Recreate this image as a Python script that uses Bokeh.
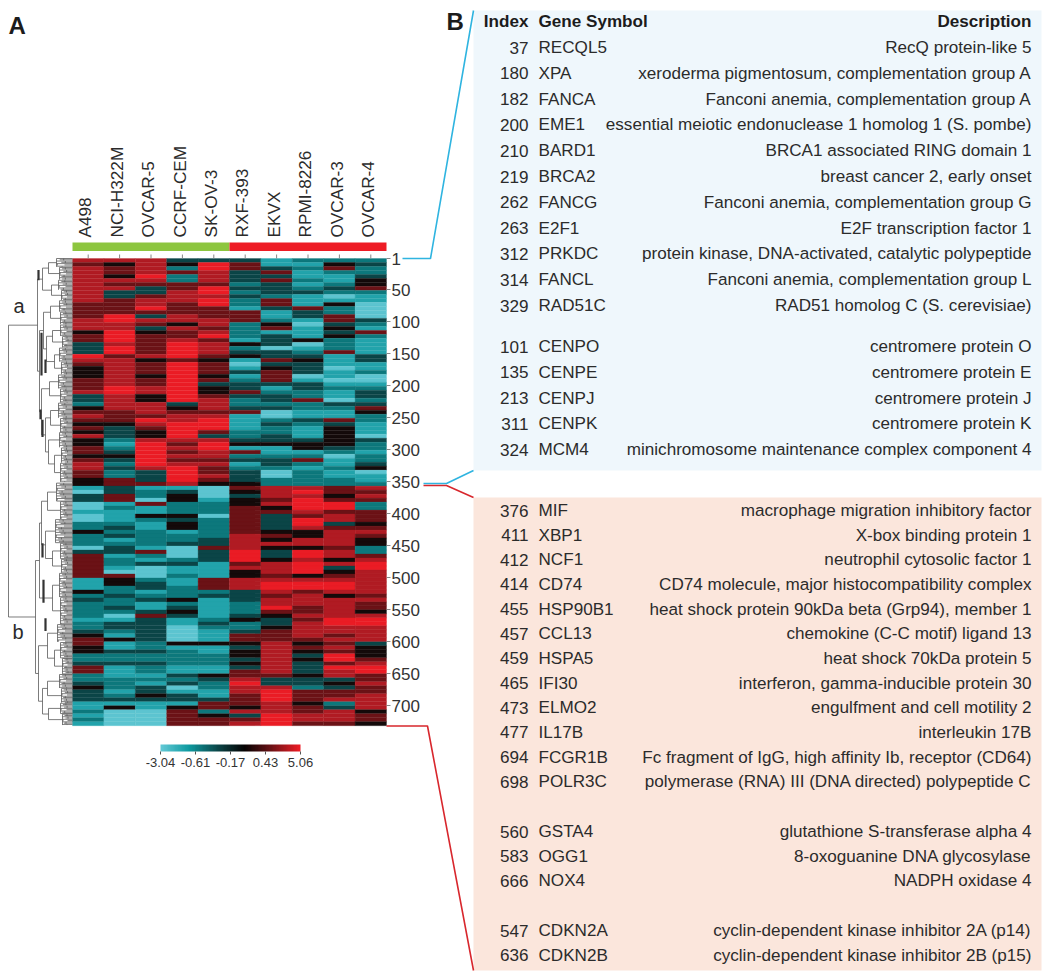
import numpy as np
from bokeh.plotting import figure
from bokeh.embed import file_html
from bokeh.resources import INLINE
from bokeh.core.properties import value
from bokeh.models import (ColumnDataSource, Range1d, LinearAxis, FixedTicker, ColorBar,
                          LinearColorMapper)

# ---------- data ----------
CELL_LINES = ["A498", "NCI-H322M", "OVCAR-5", "CCRF-CEM", "SK-OV-3",
              "RXF-393", "EKVX", "RPMI-8226", "OVCAR-3", "OVCAR-4"]
GENE_COUNT = 730
GENE_TICKS = [1, 50, 100, 150, 200, 250, 300, 350, 400, 450, 500, 550, 600, 650, 700]

# expression class per band of genes, top to bottom (0 = lowest ... 7 = highest)
A498      = "65666666666555566645533376544" "455563324565454644554566554410" "330010022422203555555111423222" "2122345544223552234333112121"
NCI_H322M = "64554656335555776677767756666" "666776666555433321234323225533" "551211123231233122105442232232" "0133214113223111222123140000"
OVCAR_5   = "66667653356675365345555564555" "455664466657654467777776333512" "205114211222215213000233123113" "5333333223223221213343110000"
CCRF_CEM  = "34252255666555664655677775777" "777777734566777765656567777613" "442224344122300023112112224234" "3110000412222113230133145555"
SK_OV_3   = "37766657767755566567566654555" "453445666567775367766565565400" "012220222223353331111555231111" "1232111411222114322113552455"
RXF_393   = "35533323232215552222142341013" "123353223511112234152312333454" "344555555566667775644666333222" "3422355434434355676655546356"
EKVX      = "11353533325531124513330335345" "553123323002322334112332002266" "656453333454643346665677656675" "4334555666666665336777666777"
RPMI_8226 = "21211212311153310111401234333" "013322522113211134412521222267" "677765776446647767774677566655" "6566665454343334332555455665"
OVCAR_3   = "24521123201422553434222511101" "101211032115344444320112112255" "457756635666656646345677646666" "6776656565775766343556236665"
OVCAR_4   = "23223445211000032152111133112" "001233235422111032212234011265" "652255545654422567766666656554" "6776666344456775565566664554"
COLUMNS = [A498, NCI_H322M, OVCAR_5, CCRF_CEM, SK_OV_3, RXF_393, EKVX, RPMI_8226, OVCAR_3, OVCAR_4]
LEVEL_COLORS = ["#5cc4d0", "#22a3ab", "#0d787c", "#0b4547", "#140a0a", "#6b1216", "#b01b23", "#ea1c25"]

# dendrogram: (distance, child, child) or leaf cluster (distance, first gene, last gene)
TREE_A = (35,
          (30, (24, (16, 1, 14), (13, 15, 34)), (21, (14, 35, 50), (11, 51, 66))),
          (33,
           (29, (22, (13, 67, 84), (12, 85, 104)),
            (26, (20, (12, 105, 122), (10, 123, 140)), (18, (13, 141, 162), (11, 163, 182)))),
           (31, (23, (14, 183, 204), (12, 205, 226)),
            (27, (22, (14, 227, 250), (12, 251, 272)),
             (24, (13, 273, 296), (18, (11, 297, 320), (12, 321, 350)))))))
TREE_B = (37,
          (33,
           (31, (25, (16, 352, 380), (12, 381, 408)), (27, (17, 409, 445), (20, (12, 446, 470), (11, 471, 492)))),
           (29, (20, (13, 493, 530), (12, 531, 572)))[1]),
          (34,
           (25, (15, 573, 600), (18, (12, 601, 625), (10, 626, 650))),
           (30, (25, (13, 651, 672), (11, 673, 695)), (24, (12, 696, 712), (10, 713, 730)))))
TREE = (64, TREE_A, TREE_B)
FAN = [0.55, 0.8, 0.45, 0.7, 0.95, 0.5, 0.65, 0.85]
# heavy runs of tightly nested joints: (distance, first gene, last gene)
DENSE_RUNS = [(34, 19, 35), (31, 117, 184), (27, 159, 180), (32, 237, 252), (30, 253, 280),
              (30, 446, 468), (29, 503, 539), (27, 563, 583)]

LEGEND_LABELS = ["-3.04", "-0.61", "-0.17", "0.43", "5.06"]
LEGEND_STOPS = ["#62c9d6", "#0e9aa0", "#0c4a4c", "#050303", "#701317", "#ee1c25"]

UP_INDEX = [37, 180, 182, 200, 210, 219, 262, 263, 312, 314, 329]
UP_GENE = ["RECQL5", "XPA", "FANCA", "EME1", "BARD1", "BRCA2", "FANCG", "E2F1", "PRKDC", "FANCL", "RAD51C"]
UP_DESC = ["RecQ protein-like 5", "xeroderma pigmentosum, complementation group A",
           "Fanconi anemia, complementation group A",
           "essential meiotic endonuclease 1 homolog 1 (S. pombe)",
           "BRCA1 associated RING domain 1", "breast cancer 2, early onset",
           "Fanconi anemia, complementation group G", "E2F transcription factor 1",
           "protein kinase, DNA-activated, catalytic polypeptide",
           "Fanconi anemia, complementation group L", "RAD51 homolog C (S. cerevisiae)"]
CEN_INDEX = [101, 135, 213, 311, 324]
CEN_GENE = ["CENPO", "CENPE", "CENPJ", "CENPK", "MCM4"]
CEN_DESC = ["centromere protein O", "centromere protein E", "centromere protein J",
            "centromere protein K", "minichromosome maintenance complex component 4"]
DOWN_INDEX = [376, 411, 412, 414, 455, 457, 459, 465, 473, 477, 694, 698]
DOWN_GENE = ["MIF", "XBP1", "NCF1", "CD74", "HSP90B1", "CCL13", "HSPA5", "IFI30", "ELMO2", "IL17B", "FCGR1B", "POLR3C"]
DOWN_DESC = ["macrophage migration inhibitory factor", "X-box binding protein 1",
             "neutrophil cytosolic factor 1", "CD74 molecule, major histocompatibility complex",
             "heat shock protein 90kDa beta (Grp94), member 1", "chemokine (C-C motif) ligand 13",
             "heat shock 70kDa protein 5", "interferon, gamma-inducible protein 30",
             "engulfment and cell motility 2", "interleukin 17B",
             "Fc fragment of IgG, high affinity Ib, receptor (CD64)",
             "polymerase (RNA) III (DNA directed) polypeptide C"]
OX_INDEX = [560, 583, 666]
OX_GENE = ["GSTA4", "OGG1", "NOX4"]
OX_DESC = ["glutathione S-transferase alpha 4", "8-oxoguanine DNA glycosylase", "NADPH oxidase 4"]
CDK_INDEX = [547, 636]
CDK_GENE = ["CDKN2A", "CDKN2B"]
CDK_DESC = ["cyclin-dependent kinase inhibitor 2A (p14)", "cyclin-dependent kinase inhibitor 2B (p15)"]

# ---------- layout (image pixels) ----------
FONT = value("Liberation Sans")
X0, Y0 = 0, 0
W, H = 1046, 975
HX0, HX1, HY0 = 72, 386, 258
PX_PER_GENE = 0.64
COL_W = (HX1 - HX0) / len(CELL_LINES)
TXT = "17.1px"

p = figure(width=W, height=H, x_range=(X0, X0 + W), y_range=(Y0 + H, Y0), toolbar_location=None,
           output_backend="svg", x_axis_location=None, y_axis_location=None,
           min_border=0, outline_line_color=None, background_fill_color="white")
p.grid.visible = False

# scales for columns, genes and dendrogram distance
p.extra_x_ranges["col"] = Range1d((X0 - HX0) / COL_W, (X0 + W - HX0) / COL_W)
p.extra_x_ranges["dist"] = Range1d(HX0 - X0, HX0 - X0 - W)
p.extra_y_ranges["gene"] = Range1d(1 + (Y0 + H - HY0) / PX_PER_GENE, 1 + (Y0 - HY0) / PX_PER_GENE)

# ---------- panels in B ----------
p.quad(left=[473, 473], right=[1041, 1041], top=[10, 497], bottom=[470, 970],
       fill_color=["#eff7fc", "#fbe6dc"], line_color=None)

# ---------- heatmap ----------
n_rows = len(A498)
assert all(len(c) == n_rows for c in COLUMNS), [len(c) for c in COLUMNS]
edges = 1 + np.arange(n_rows + 1) * GENE_COUNT / n_rows
hl, hr, ht, hb, hc = [], [], [], [], []
for j, col in enumerate(COLUMNS):
    for i, ch in enumerate(col):
        hl.append(j); hr.append(j + 1); ht.append(edges[i]); hb.append(edges[i + 1])
        hc.append(LEVEL_COLORS[int(ch)])
p.quad(left="l", right="r", top="t", bottom="b", fill_color="c", line_color="c", line_width=0.3,
       source=ColumnDataSource(dict(l=hl, r=hr, t=ht, b=hb, c=hc)),
       x_range_name="col", y_range_name="gene")

# ---------- class bars, column labels, ticks ----------
n = len(CELL_LINES)
p.quad(left=[0, n // 2], right=[n // 2, n], top=[250.5, 250.5], bottom=[242, 242],
       fill_color=["#8dc63f", "#ee1c25"], line_color=None, x_range_name="col")
centers = np.arange(n) + 0.5
p.text(x=list(centers - 0.09), y=[237] * n, text=CELL_LINES, angle=np.pi / 2, text_align="left",
       text_baseline="middle", text_font=FONT, text_font_size="17.2px", text_color="#2b2b2b",
       x_range_name="col")
p.segment(x0=list(centers), x1=list(centers), y0=[254] * n, y1=[258] * n, line_color="#888888",
          line_width=1, x_range_name="col")

ax = LinearAxis(y_range_name="gene", fixed_location=HX1, ticker=FixedTicker(ticks=GENE_TICKS),
                axis_line_color=None, major_tick_line_color="#888888", major_tick_in=0,
                major_tick_out=4, minor_tick_line_color=None, major_label_standoff=1,
                major_label_text_font="Liberation Sans", major_label_text_font_size="17px",
                major_label_text_color="#333333")
p.add_layout(ax, "right")

# ---------- dendrogram ----------
sx0, sx1, sy0, sy1 = [], [], [], []
def seg(a, b, c, d):
    sx0.append(a); sx1.append(b); sy0.append(c); sy1.append(d)

def walk(node):
    d = node[0]
    if isinstance(node[1], tuple):
        kids = [(k[0], walk(k)) for k in node[1:]]
        ys = [y for _, y in kids]
        seg(d, d, min(ys), max(ys))
        for kd, y in kids:
            seg(d, kd, y, y)
        return sum(ys) / len(ys)
    first, last = node[1], node[2]
    seg(d, d, first, last)
    k = 0
    for g in range(first, last + 1, 2):
        start = d * FAN[k % len(FAN)] if (g - first) % 4 else d
        seg(start, 0, g, g)
        if (g - first) % 4 == 0:
            seg(d * FAN[k % len(FAN)], d * FAN[k % len(FAN)], g, min(g + 3, last))
        k += 1
    return (first + last) / 2

walk(TREE)
p.segment(x0=sx0, x1=sx1, y0=sy0, y1=sy1, line_color="#5a5a5a", line_width=0.8,
          x_range_name="dist", y_range_name="gene")
p.segment(x0=[r[0] for r in DENSE_RUNS], x1=[r[0] for r in DENSE_RUNS],
          y0=[r[1] for r in DENSE_RUNS], y1=[r[2] for r in DENSE_RUNS],
          line_color="#333333", line_width=2.2, x_range_name="dist", y_range_name="gene")

# ---------- connectors ----------
def poly(xs, ys, color):
    p.line(x=xs, y=ys, line_color=color, line_width=1.6)
poly([402, 430, 473], [258, 258, 10], "#2fb4e0")
poly([423, 446, 473], [483, 483, 470], "#2fb4e0")
poly([423, 446, 473], [485, 485, 497], "#d8272d")
poly([386, 427, 473], [725.5, 725.5, 970], "#d8272d")

# ---------- legend ----------
steps = np.linspace(0, len(LEGEND_STOPS) - 1, 100)
rgb = np.array([[int(c[i:i + 2], 16) for i in (1, 3, 5)] for c in LEGEND_STOPS], float)
pal = ["#%02x%02x%02x" % tuple(int(np.interp(s, range(len(rgb)), rgb[:, k])) for k in range(3)) for s in steps]
cm = LinearColorMapper(palette=pal, low=0, high=len(LEGEND_LABELS) - 1)
cb = ColorBar(color_mapper=cm, ticker=FixedTicker(ticks=list(range(len(LEGEND_LABELS)))),
              major_label_overrides={i: t for i, t in enumerate(LEGEND_LABELS)},
              width=140, height=7, padding=0, margin=0, location=(160, 206), orientation="horizontal",
              major_tick_line_color="#555555", major_tick_in=0, major_tick_out=3, label_standoff=3,
              major_label_text_font="Liberation Sans", major_label_text_font_size="13px",
              major_label_text_color="#333333", bar_line_color=None, border_line_color=None,
              background_fill_color=None)
p.add_layout(cb, "center")

# ---------- table ----------
def rows(idx, gene, desc, top, step):
    ys = [top + i * step for i in range(len(idx))]
    c = "#2b2b2b"
    p.text(x=[528] * len(idx), y=ys, text=[str(v) for v in idx], text_align="right", text_baseline="middle",
           text_font=FONT, text_font_size=TXT, text_color=c)
    p.text(x=[538] * len(idx), y=ys, text=gene, text_align="left", text_baseline="middle",
           text_font=FONT, text_font_size=TXT, text_color=c)
    p.text(x=[1031] * len(idx), y=ys, text=desc, text_align="right", text_baseline="middle",
           text_font=FONT, text_font_size=TXT, text_color=c)

rows(UP_INDEX, UP_GENE, UP_DESC, 47, 25.8)
rows(CEN_INDEX, CEN_GENE, CEN_DESC, 346, 25.75)
rows(DOWN_INDEX, DOWN_GENE, DOWN_DESC, 510, 24.65)
rows(OX_INDEX, OX_GENE, OX_DESC, 831, 24.5)
rows(CDK_INDEX, CDK_GENE, CDK_DESC, 930, 24.5)

p.text(x=[528, 538, 1031], y=[21, 21, 21], text=["Index", "Gene Symbol", "Description"],
       text_align=["right", "left", "right"], text_baseline="middle", text_font=FONT,
       text_font_size=TXT, text_font_style="bold", text_color="#1c1c1c")

# ---------- panel letters ----------
p.text(x=[8, 446], y=[25, 21], text=["A", "B"], text_baseline="middle", text_font=FONT,
       text_font_size="24px", text_font_style="bold", text_color="#1c1c1c")
p.text(x=[13, 12], y=[305, 631], text=["a", "b"], text_baseline="middle", text_font=FONT,
       text_font_size="20px", text_color="#2b2b2b")

open("out.html", "w").write(file_html(p, INLINE))
